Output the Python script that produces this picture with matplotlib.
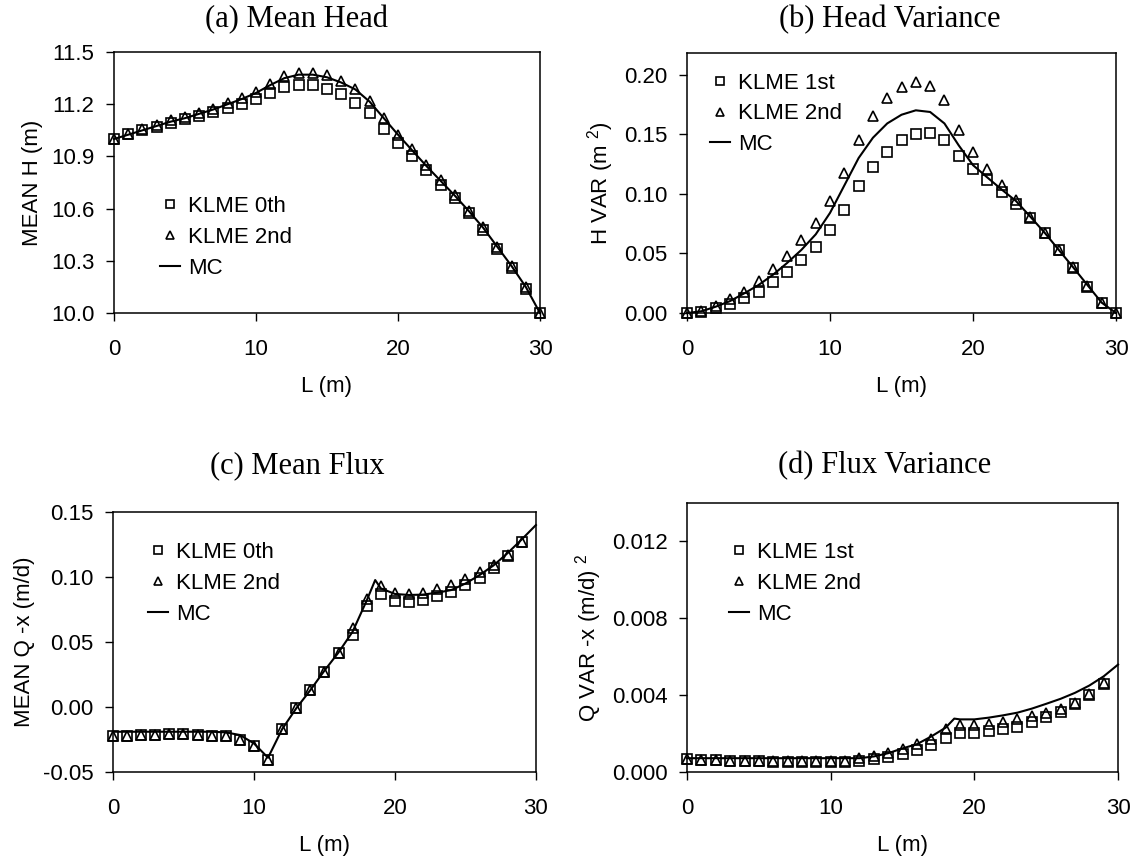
import numpy as np
import matplotlib
matplotlib.use("Agg")
import matplotlib.pyplot as plt
from matplotlib.ticker import FormatStrFormatter

plt.rcParams['font.family'] = ['Liberation Sans', 'DejaVu Sans']
plt.rcParams['font.size'] = 16
plt.rcParams['axes.unicode_minus'] = False
plt.rcParams['mathtext.fontset'] = 'custom'
plt.rcParams['mathtext.rm'] = 'Liberation Sans'

# --- data ---
L = list(range(31))
L_mc_kink = [0, 1, 2, 3, 4, 5, 6, 7, 8, 9, 10, 11, 12, 13, 14, 15, 16, 17, 18, 18.6,
             19, 20, 21, 22, 23, 24, 25, 26, 27, 28, 29, 30]

# (a) mean head
head_0th = [11.00, 11.03, 11.05, 11.07, 11.09, 11.115, 11.13, 11.155, 11.18, 11.20,
            11.23, 11.265, 11.30, 11.31, 11.31, 11.29, 11.26, 11.21, 11.15, 11.06,
            10.98, 10.90, 10.82, 10.735, 10.66, 10.575, 10.48, 10.37, 10.26, 10.14, 10.00]
head_2nd = [11.00, 11.03, 11.06, 11.08, 11.11, 11.125, 11.148, 11.174, 11.205, 11.234,
            11.272, 11.316, 11.362, 11.381, 11.381, 11.368, 11.335, 11.29, 11.22, 11.119,
            11.023, 10.94, 10.85, 10.764, 10.678, 10.588, 10.496, 10.381, 10.27, 10.151, 10.00]
head_mc = [11.00, 11.025, 11.05, 11.075, 11.10, 11.12, 11.145, 11.17, 11.20, 11.23,
           11.265, 11.31, 11.35, 11.37, 11.37, 11.355, 11.325, 11.285, 11.215, 11.12,
           11.025, 10.935, 10.845, 10.76, 10.675, 10.585, 10.49, 10.38, 10.27, 10.15, 10.00]

# (b) head variance
hvar_1st = [0.000, 0.001, 0.004, 0.0076, 0.0123, 0.018, 0.0258, 0.0342, 0.0445, 0.0557,
            0.0697, 0.0866, 0.1062, 0.1221, 0.135, 0.1448, 0.1504, 0.151, 0.1454, 0.1319,
            0.1207, 0.1112, 0.1014, 0.0916, 0.0796, 0.067, 0.0529, 0.0375, 0.0221, 0.0081, 0.000]
hvar_2nd = [0.000, 0.0017, 0.0059, 0.0115, 0.018, 0.0272, 0.0367, 0.0479, 0.0613, 0.0759,
            0.0936, 0.1174, 0.1448, 0.1655, 0.1804, 0.1896, 0.1938, 0.1902, 0.1784, 0.1538,
            0.1347, 0.1207, 0.1076, 0.095, 0.0809, 0.0675, 0.0529, 0.0384, 0.0227, 0.0087, 0.000]
hvar_mc = [0.000, 0.0015, 0.0053, 0.010, 0.0165, 0.0235, 0.032, 0.042, 0.053, 0.066,
           0.084, 0.107, 0.130, 0.147, 0.159, 0.1663, 0.170, 0.1686, 0.159, 0.1406,
           0.124, 0.1137, 0.1036, 0.094, 0.0809, 0.0675, 0.0529, 0.0384, 0.0235, 0.0087, 0.000]

# (c) mean flux (markers 0..29)
flux_0th = [-0.022, -0.022, -0.0215, -0.0215, -0.021, -0.021, -0.0213, -0.022, -0.0226, -0.025,
            -0.030, -0.041, -0.017, -0.001, 0.0131, 0.0272, 0.0413, 0.0554, 0.0777, 0.0869,
            0.0815, 0.081, 0.0823, 0.0854, 0.0887, 0.0938, 0.099, 0.1067, 0.116, 0.1271]
flux_2nd = [-0.022, -0.022, -0.0215, -0.0215, -0.021, -0.021, -0.0213, -0.022, -0.0226, -0.025,
            -0.030, -0.041, -0.017, -0.001, 0.0131, 0.0272, 0.0413, 0.0605, 0.0828, 0.093,
            0.0874, 0.0869, 0.0879, 0.0908, 0.0938, 0.0982, 0.1036, 0.1092, 0.1167, 0.1271]
flux_mc = [-0.019, -0.019, -0.019, -0.019, -0.019, -0.019, -0.019, -0.019, -0.0195, -0.0215,
           -0.028, -0.039, -0.017, -0.001, 0.013, 0.028, 0.042, 0.058, 0.082, 0.0977,
           0.0913, 0.087, 0.0862, 0.0865, 0.088, 0.090, 0.095, 0.1015, 0.109, 0.1185, 0.129, 0.14]

# (d) flux variance (markers 0..29)
qvar_1st = [0.00067, 0.00064, 0.00064, 0.00059, 0.00059, 0.00059, 0.00053, 0.00053, 0.00053, 0.00053,
            0.00053, 0.00053, 0.00059, 0.00067, 0.00076, 0.00093, 0.00116, 0.00141, 0.00179, 0.00205,
            0.00205, 0.00214, 0.00222, 0.00236, 0.0026, 0.00286, 0.00312, 0.00352, 0.0040, 0.00459]
qvar_2nd = [0.00067, 0.00064, 0.00064, 0.00059, 0.00059, 0.00059, 0.00055, 0.00055, 0.00055, 0.00055,
            0.00055, 0.00057, 0.00071, 0.00084, 0.00097, 0.00119, 0.00145, 0.00174, 0.00222, 0.00243,
            0.00243, 0.00248, 0.0026, 0.00274, 0.00291, 0.00309, 0.0033, 0.00361, 0.00407, 0.00464]
qvar_mc = [0.00072, 0.00072, 0.00072, 0.00072, 0.00072, 0.00072, 0.00072, 0.00072, 0.00072, 0.00072,
           0.00072, 0.00072, 0.00072, 0.00081, 0.00098, 0.00123, 0.00145, 0.00185, 0.00231, 0.00278,
           0.00274, 0.00274, 0.00283, 0.00295, 0.00309, 0.0033, 0.00355, 0.00381, 0.00412, 0.0045,
           0.00498, 0.00559]

fig = plt.figure(figsize=(11.33, 8.56), dpi=100)

ax_a = fig.add_axes([0.1006, 0.6343, 0.376, 0.3049])
ax_b = fig.add_axes([0.6064, 0.6343, 0.3786, 0.3037])
ax_c = fig.add_axes([0.0997, 0.0981, 0.3733, 0.3037])
ax_d = fig.add_axes([0.6064, 0.0981, 0.3804, 0.3143])

mk = dict(linestyle='none', mfc='none', mec='black', mew=1.2, clip_on=False)


def panel(ax, xm, sq, tri, xl, mc, lab_sq):
    ax.plot(xm, sq, marker='s', ms=7, label=lab_sq, **mk)
    ax.plot(xm, tri, marker='^', ms=7.5, label='KLME 2nd', **mk)
    ax.plot(xl, mc, color='black', lw=1.5, label='MC', clip_on=False)
    ax.set_xlim(0, 30)
    ax.set_xticks([0, 10, 20, 30])
    ax.set_xlabel('L (m)', labelpad=11)
    ax.tick_params(direction='out', length=6, width=1)
    ax.tick_params(axis='x', pad=13)
    ax.tick_params(axis='y', pad=8)
    for s in ax.spines.values():
        s.set_linewidth(1.1)


panel(ax_a, L, head_0th, head_2nd, L, head_mc, 'KLME 0th')
ax_a.set_ylim(10.0, 11.5)
ax_a.set_yticks(np.arange(10.0, 11.51, 0.3))
ax_a.yaxis.set_major_formatter(FormatStrFormatter('%.1f'))
ax_a.set_ylabel('MEAN H (m)', labelpad=6)

panel(ax_b, L, hvar_1st, hvar_2nd, L, hvar_mc, 'KLME 1st')
ax_b.set_ylim(0, 0.218)
ax_b.set_yticks([0, 0.05, 0.10, 0.15, 0.20])
ax_b.yaxis.set_major_formatter(FormatStrFormatter('%.2f'))
ax_b.set_ylabel('H VAR (m $^{2}$)', labelpad=6)

panel(ax_c, L[:30], flux_0th, flux_2nd, L_mc_kink, flux_mc, 'KLME 0th')
ax_c.set_ylim(-0.05, 0.15)
ax_c.set_yticks([-0.05, 0, 0.05, 0.10, 0.15])
ax_c.yaxis.set_major_formatter(FormatStrFormatter('%.2f'))
ax_c.set_ylabel('MEAN Q -x (m/d)', labelpad=6)

panel(ax_d, L[:30], qvar_1st, qvar_2nd, L_mc_kink, qvar_mc, 'KLME 1st')
ax_d.set_ylim(0, 0.014)
ax_d.set_yticks([0, 0.004, 0.008, 0.012])
ax_d.yaxis.set_major_formatter(FormatStrFormatter('%.3f'))
ax_d.set_ylabel('Q VAR -x (m/d) $^{2}$', labelpad=6)

leg_kw = dict(frameon=False, loc='upper left', borderaxespad=0, borderpad=0,
              handlelength=0.9, handletextpad=0.35, labelspacing=0.44, markerscale=0.75)
ax_a.legend(bbox_to_anchor=(0.108, 0.448), **leg_kw)
ax_b.legend(bbox_to_anchor=(0.054, 0.925), **leg_kw)
ax_c.legend(bbox_to_anchor=(0.083, 0.885), **leg_kw)
ax_d.legend(bbox_to_anchor=(0.097, 0.855), **leg_kw)

tkw = dict(family=['Liberation Serif', 'DejaVu Serif'], fontsize=22, ha='center', va='center')
fig.text(0.262, 0.977, '(a) Mean Head', **tkw)
fig.text(0.785, 0.977, '(b) Head Variance', **tkw)
fig.text(0.262, 0.456, '(c) Mean Flux', **tkw)
fig.text(0.781, 0.456, '(d) Flux Variance', **tkw)

fig.savefig('out.png', dpi=100)
